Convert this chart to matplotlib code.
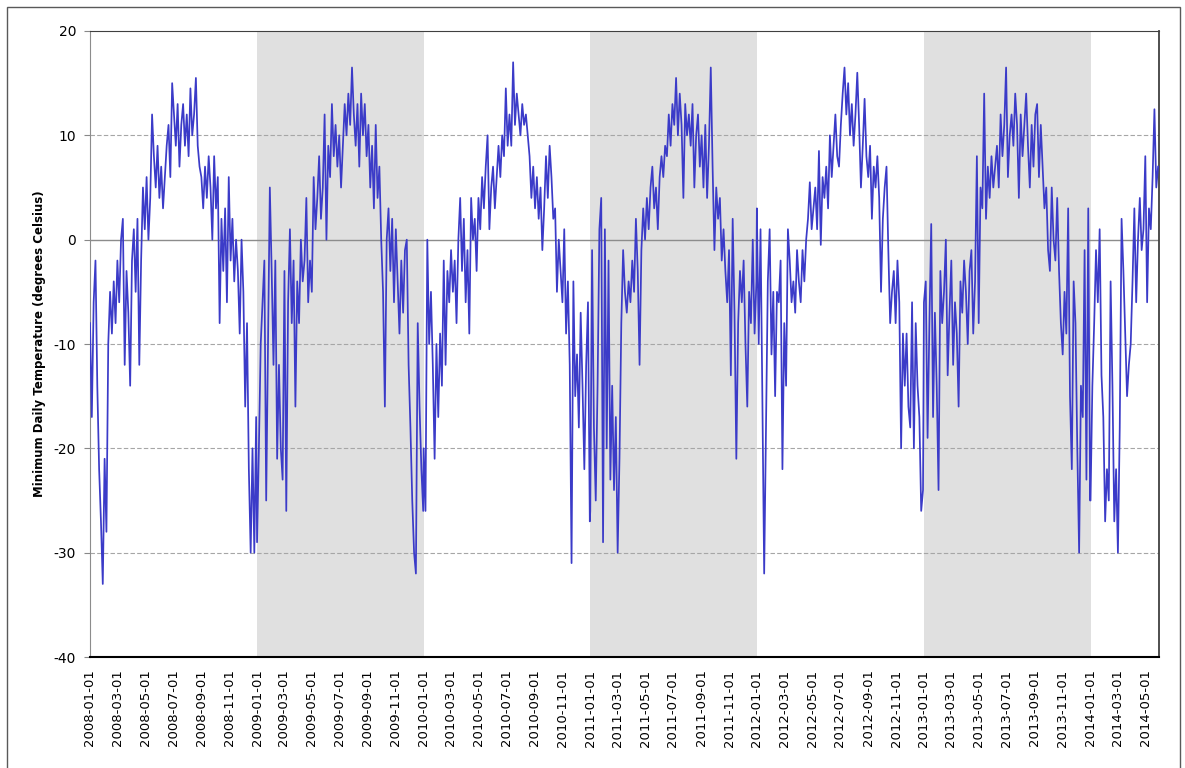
import pandas as pd
import matplotlib
matplotlib.use("Agg")
import matplotlib.pyplot as plt
import matplotlib.dates as mdates
from matplotlib.patches import Rectangle

plt.rcParams.update({"font.family": "DejaVu Sans", "font.size": 10,
                     "axes.unicode_minus": False})

# minimum daily temperature (deg C), every 4 days from Jan 1 of each year
temps_2008 = [-8, -17, -6, -2, -14, -22, -27, -33, -21, -28,
              -10, -5, -9, -4, -8, -2, -6, 0, 2, -12,
              -3, -7, -14, -2, 1, -5, 2, -12, -2, 5,
              1, 6, 0, 4, 12, 8, 5, 9, 4, 7,
              3, 6, 9, 11, 6, 15, 12, 9, 13, 7,
              11, 13, 9, 12, 8, 14.5, 10, 12, 15.5, 9,
              7, 6, 3, 7, 4, 8, 5, 0, 8, 3,
              6, -8, 2, -3, 3, -6, 6, -2, 2, -4,
              0, -3, -9, 0, -5, -16, -8, -22, -30, -20,
              -30, -17]
temps_2009 = [-29, -20, -10, -6, -2, -25, -10, 5, -3, -12,
              -2, -21, -12, -20, -23, -3, -26, -6, 1, -8,
              -2, -16, -4, -8, 0, -4, -2, 4, -6, -2,
              -5, 6, 1, 4, 8, 2, 5, 12, 0, 9,
              6, 13, 8, 11, 7, 10, 5, 9, 13, 10,
              14, 11, 16.5, 12, 9, 13, 7, 14, 10, 13,
              8, 11, 5, 9, 3, 11, 4, 7, 0, -5,
              -16, 0, 3, -3, 2, -6, 1, -4, -9, -2,
              -7, -1, 0, -12, -18, -25, -30, -32, -8, -16,
              -22, -26]
temps_2010 = [-20, -26, 0, -10, -5, -12, -21, -10, -17, -9,
              -14, -2, -12, -3, -6, -1, -5, -2, -8, 0,
              4, -3, 2, -6, -1, -9, 4, 0, 2, -3,
              4, 1, 6, 3, 7, 10, 1, 5, 7, 3,
              6, 9, 6, 10, 8, 14.5, 9, 12, 9, 17,
              11, 14, 12, 10, 13, 11, 12, 10, 8, 4,
              7, 3, 6, 2, 5, -1, 3, 8, 4, 9,
              6, 2, 3, -5, 0, -3, -6, 1, -9, -4,
              -12, -31, -4, -15, -11, -18, -7, -14, -22, -12,
              -6, -27]
temps_2011 = [-26, -1, -18, -25, -14, 1, 4, -29, 1, -20,
              -2, -23, -14, -24, -17, -30, -21, -8, -1, -5,
              -7, -4, -6, -2, -5, 2, -3, -12, -1, 3,
              0, 4, 1, 5, 7, 3, 5, 1, 6, 8,
              6, 9, 8, 12, 9, 13, 11, 15.5, 10, 14,
              11, 4, 13, 10, 12, 9, 13, 5, 10, 12,
              7, 10, 5, 11, 4, 9, 16.5, 7, -1, 5,
              2, 4, -2, 1, -3, -6, -1, -13, 2, -7,
              -21, -8, -3, -6, -2, -10, -16, -5, -8, 0,
              -9, -4]
temps_2012 = [3, -10, 1, -15, -32, -18, -4, 1, -11, -5,
              -15, -5, -6, -2, -22, -8, -14, 1, -2, -6,
              -4, -7, -1, -4, -6, -1, -4, 0, 2, 5.5,
              1, 3, 5, 1, 8.5, -0.5, 6, 4, 7, 3,
              10, 6, 9, 12, 8, 7, 11, 14, 16.5, 12,
              15, 10, 13, 9, 12, 16, 11, 5, 9, 13.5,
              8, 6, 9, 2, 7, 5, 8, 4, -5, 2,
              5, 7, -1, -8, -5, -3, -8, -2, -6, -20,
              -9, -14, -9, -16, -18, -6, -20, -8, -14, -17,
              -26, -24]
temps_2013 = [-6, -4, -19, -8, 1.5, -17, -7, -14, -24, -3,
              -8, -5, 0, -13, -7, -2, -12, -6, -9, -16,
              -4, -7, -2, -5, -10, -3, -1, -9, -4, 8,
              -8, 5, 3, 14, 2, 7, 4, 8, 5, 7,
              9, 5, 12, 8, 11, 16.5, 6, 10, 12, 9,
              14, 11, 4, 12, 8, 11, 14, 9, 5, 11,
              7, 12, 13, 6, 11, 7, 3, 5, -1, -3,
              5, 0, -2, 4, -3, -8, -11, -5, -9, 3,
              -15, -22, -4, -8, -20, -30, -14, -17, -1, -23,
              3, -25]
temps_2014 = [-25, -14, -8, -1, -6, 1, -13, -17, -27, -22,
              -25, -4, -14, -27, -22, -30, -18, 2, -3, -9,
              -15, -12, -10, -4, 3, -6, 0, 4, -1, 1,
              8, -6, 3, 1, 6, 12.5, 5, 7]

YEARS = [2008, 2009, 2010, 2011, 2012, 2013, 2014]
SERIES = [temps_2008, temps_2009, temps_2010, temps_2011, temps_2012, temps_2013, temps_2014]
SHADED_YEARS = [2009, 2011, 2013]
GRID_LEVELS = [10, -10, -20, -30]

dates, temps = [], []
for yr, vals in zip(YEARS, SERIES):
    dates.extend(pd.date_range(f"{yr}-01-01", periods=len(vals), freq="4D"))
    temps.extend(vals)

W, H = 1185, 768
fig = plt.figure(figsize=(W / 100, H / 100), dpi=100)
ax = fig.add_axes([90 / W, 1 - 657 / H, 1069 / W, 626 / H])

for yr in SHADED_YEARS:
    ax.axvspan(pd.Timestamp(f"{yr}-01-01"), pd.Timestamp(f"{yr + 1}-01-01"),
               color="#e0e0e0", lw=0, zorder=0)
for lvl in GRID_LEVELS:
    ax.axhline(lvl, color="#a6a6a6", lw=0.8, ls=(0, (4, 2)), zorder=1)
ax.axhline(0, color="#8c8c8c", lw=1.0, zorder=1)

ax.plot(dates, temps, color="#3b3bc8", lw=1.25, zorder=3)

ax.set_xlim(pd.Timestamp("2008-01-01"), pd.Timestamp("2014-05-31"))
ax.set_ylim(-40, 20)
ax.set_yticks(range(-40, 21, 10))
ax.xaxis.set_major_locator(mdates.MonthLocator(bymonth=[1, 3, 5, 7, 9, 11]))
ax.xaxis.set_major_formatter(mdates.DateFormatter("%Y-%m-%d"))
plt.setp(ax.get_xticklabels(), rotation=90, fontsize=9.5)
ax.tick_params(axis="x", length=0, pad=9)
ax.tick_params(axis="y", length=4, color="#888888", pad=6)

ax.spines["top"].set_color("#404040")
ax.spines["right"].set_color("#404040")
ax.spines["right"].set_linewidth(1.3)
ax.spines["bottom"].set_color("black")
ax.spines["bottom"].set_linewidth(1.5)
ax.spines["left"].set_color("#8c8c8c")

fig.text(40 / W, 1 - 344 / H, "Minimum Daily Temperature (degrees Celsius)",
         rotation=90, fontweight="bold", fontsize=8.5, ha="center", va="center")

# outer frame of the chart
fig.patches.append(Rectangle((7 / W, -0.05), 1173 / W, 1.05 - 7.5 / H,
                             transform=fig.transFigure, fill=False,
                             edgecolor="#595959", lw=1))

fig.savefig("out.png", dpi=100)
